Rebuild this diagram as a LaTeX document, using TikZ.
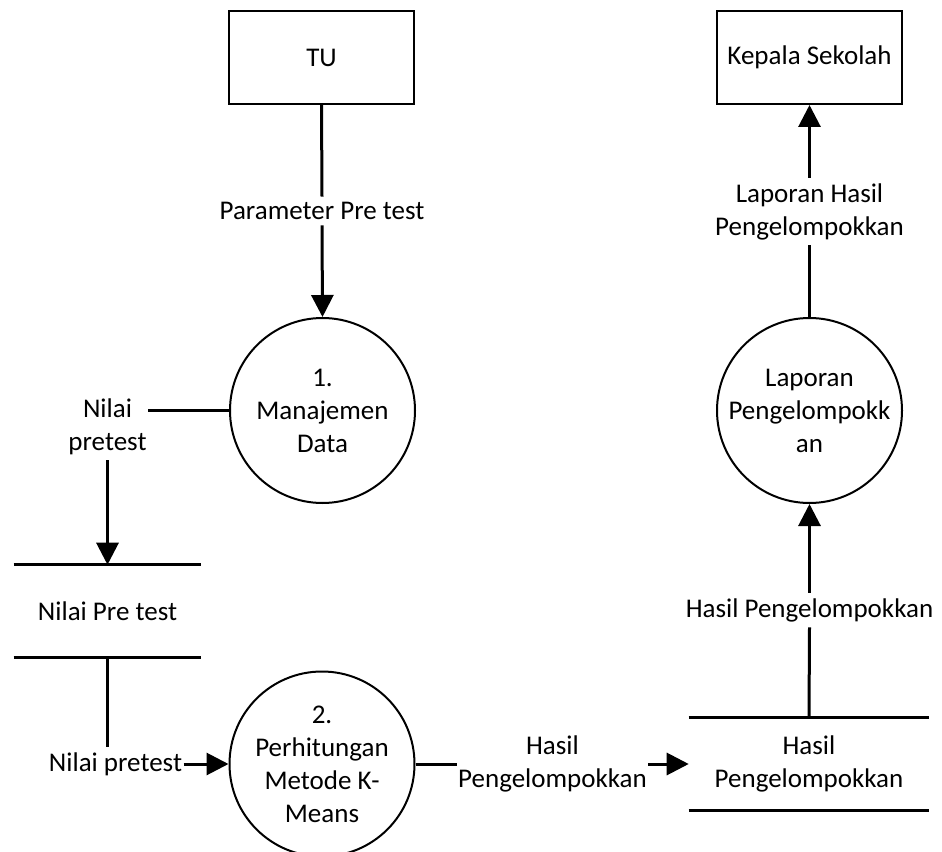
\documentclass[tikz,border=0pt]{standalone}
\usepackage{fontspec}
\setmainfont{Carlito}
\usetikzlibrary{arrows.meta}
\begin{document}
\begin{tikzpicture}[x=0.75pt,y=-0.75pt,
  every node/.style={font=\fontsize{20.25}{24.75}\selectfont},
  entity/.style={draw,line width=1.5pt,minimum width=138.75pt,minimum height=69.75pt},
  process/.style={circle,draw,line width=1.5pt,minimum size=138.75pt,align=center,inner sep=0pt},
  store/.style={minimum height=69pt,align=center,inner sep=0pt},
  flowlabel/.style={align=center,inner xsep=1pt,inner ysep=4pt},
  flow/.style={line width=2.25pt},
  flowarrow/.style={flow,-{Triangle[length=16.5pt,width=16.5pt]}},
]
\useasboundingbox (0,0) rectangle (942,852);
\clip (0,0) rectangle (942,852);

% external entities
\node[entity] (tu)  at (321.5,57.5) {TU};
\node[entity] (kep) at (809.5,57.5) {Kepala Sekolah};

% processes
\node[process] (c1) at (322.5,410.5) {1.\\Manajemen\\Data};
\node[process] (c2) at (322,764) {2.\\Perhitungan\\Metode K-\\Means};
\node[process] (c3) at (809.5,410.5) {Laporan\\Pengelompokk\\an};

% data stores
\node[store,minimum width=140.25pt] (s1) at (107.5,611) {Nilai Pre test};
\node[store,minimum width=180pt] (s2) at (809,764) {Hasil\\Pengelompokkan};
\foreach \s in {s1,s2}{
  \draw[flow] (\s.north west) -- (\s.north east);
  \draw[flow] (\s.south west) -- (\s.south east);
}

% flow labels
\node[flowlabel] (pl)  at (322,211)     {Parameter Pre test};
\node[flowlabel] (nl1) at (107.5,426.5) {Nilai\\pretest};
\node[flowlabel] (nl2) at (115.5,764)   {Nilai pretest};
\node[flowlabel] (hl1) at (552.5,764)   {Hasil\\Pengelompokkan};
\node[flowlabel] (hl2) at (809.5,610)   {Hasil Pengelompokkan};
\node[flowlabel] (ll)  at (809.5,211.5) {Laporan Hasil\\Pengelompokkan};

% data flows
\draw[flow]      (tu.south) -- (pl.north);
\draw[flowarrow] (pl.south) -- (c1.north);
\draw[flow]      (c1.west) -- (c1.west -| nl1.east);
\draw[flowarrow] (nl1.south) -- (s1.north);
\draw[flow]      (s1.south) -- (s1.south |- nl2.north);
\draw[flowarrow] (nl2.east) -- (c2.west);
\draw[flow]      (c2.east) -- (hl1.west);
\draw[flowarrow] (hl1.east) -- (s2.west);
\draw[flow]      (s2.north) -- (hl2.south);
\draw[flowarrow] (hl2.north) -- (c3.south);
\draw[flow]      (c3.north) -- (ll.south);
\draw[flowarrow] (ll.north) -- (kep.south);
\end{tikzpicture}
\end{document}
